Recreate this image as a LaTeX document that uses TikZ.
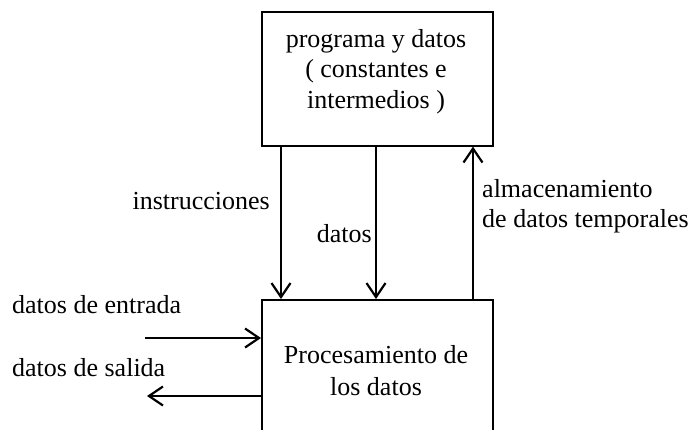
\documentclass[tikz,border=0pt]{standalone}
\usepackage{fontspec}
\setmainfont{Liberation Serif}
\usetikzlibrary{arrows.meta}
\begin{document}
\begin{tikzpicture}[x=1pt,y=-1pt,
  boxstyle/.style={draw,line width=1.6pt,inner sep=0pt,anchor=north west},
  flow/.style={line width=2.6pt,-{Straight Barb[length=14pt,width=19pt,line width=2.2pt]}},
  lbl/.style={font=\fontsize{26}{30}\selectfont,inner sep=0pt}]
\useasboundingbox (0,0) rectangle (695,429);
\clip (0,0) rectangle (695,429);
\node[boxstyle,minimum width=231pt,minimum height=134pt] (prog) at (261,11) {};
\node[boxstyle,minimum width=231pt,minimum height=150pt] (proc) at (261,299) {};
% texts in boxes
\node[lbl,anchor=base] (p1) at (376,47) {programa y datos};
\node[lbl,anchor=base] (p2) at (376,77) {( constantes e};
\node[lbl,anchor=base] (p3) at (376,108) {intermedios )};
\node[lbl,anchor=base] (q1) at (376,363) {Procesamiento de};
\node[lbl,anchor=base] (q2) at (376,395) {los datos};
% vertical arrows
\coordinate (a1) at (281,0);
\coordinate (a2) at (376,0);
\coordinate (a3) at (473,0);
\draw[flow] (prog.south -| a1) -- (proc.north -| a1);
\draw[flow] (prog.south -| a2) -- (proc.north -| a2);
\draw[flow] (proc.north -| a3) -- (prog.south -| a3);
% side arrows
\coordinate (inS) at (145,338);
\coordinate (outE) at (147,396);
\draw[flow] (inS) -- (inS -| proc.west);
\draw[flow] (outE -| proc.west) -- (outE);
% labels
\node[lbl,anchor=base east] (l1) at (270,209) {instrucciones};
\node[lbl,anchor=base east] (l2) at (372,242) {datos};
\node[lbl,anchor=base west] (l3) at (482,197) {almacenamiento};
\node[lbl,anchor=base west] (l4) at (482,227) {de datos temporales};
\node[lbl,anchor=base west] (l5) at (12,313) {datos de entrada};
\node[lbl,anchor=base west] (l6) at (12,376) {datos de salida};
\end{tikzpicture}
\end{document}
